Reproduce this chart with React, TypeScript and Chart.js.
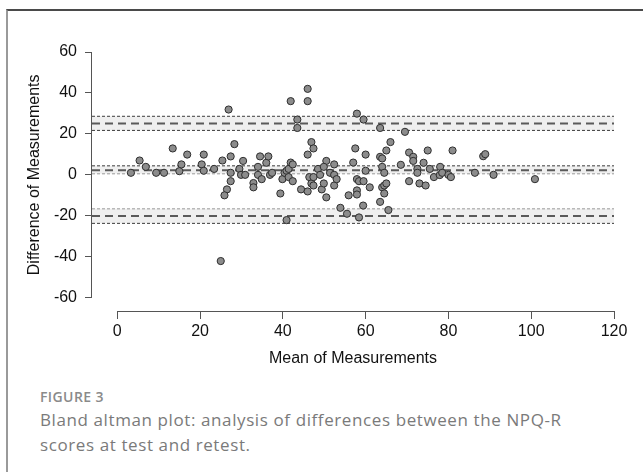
import React, { useEffect, useRef } from "react";
import { Chart, registerables } from "chart.js";

Chart.register(...registerables);

// ---- data ----
const meanOfMeasurements = [
  3.3, 5.4, 6.9, 9.4, 11.3, 13.4, 15.0, 15.5, 16.9, 20.4, 20.9, 20.9, 23.4, 25.4, 26.9, 27.4, 28.3, 27.4, 27.4, 26.5,
  25.9, 25.0, 29.5, 29.9, 30.4, 30.9, 32.9, 32.9, 34.0, 34.5, 34.0, 34.9, 36.0, 36.5, 36.9, 37.4, 39.4, 39.9,
  40.4, 40.9, 41.4, 41.9, 42.4, 41.4, 42.4, 40.9, 41.9, 43.5, 43.5, 44.4, 46.0, 46.0, 46.9, 47.4, 46.0, 46.0,
  46.4, 46.9, 47.4, 47.4, 48.5, 49.0, 49.4, 49.9, 50.5, 49.9, 50.5, 51.4, 52.4, 52.4, 52.4, 53.0, 53.9, 55.5, 55.9,
  57.0, 57.5, 57.9, 59.5, 57.9, 58.4, 57.9, 57.9, 58.4, 59.5, 59.4, 60.0, 60.0, 61.0, 63.5, 63.5, 63.5, 64.0,
  64.0, 64.5, 64.0, 64.5, 65.0, 64.5, 65.5, 65.0, 66.0,
  68.5, 69.5, 70.5, 71.5, 71.5, 72.5, 72.5, 70.5, 73.0, 74.5, 74.0, 75.0, 75.5, 76.5, 78.0, 77.9, 78.5, 80.0,
  80.6, 81.0, 88.4, 88.9, 86.4, 90.9, 100.9,
];
const differenceOfMeasurements = [
  1.0, 7.0, 3.9, 1.0, 1.0, 12.9, 1.8, 5.1, 9.9, 5.1, 9.9, 2.0, 2.9, 7.0, 31.9, 9.0, 15.0, 1.0, -3.1, -7.1,
  -10.0, -42.1, 2.9, 0.0, 6.8, 0.0, -4.0, -6.1, 3.9, 9.0, 0.0, -2.1, 5.9, 9.0, 0.0, 1.0, -9.1, -2.1,
  1.0, 2.0, 2.9, 6.0, 5.1, -1.1, -3.1, -22.1, 36.0, 27.0, 22.9, -7.1, 42.0, 36.0, 16.0, 12.9, 9.9, -8.1,
  -1.1, -4.2, -5.2, -1.1, 2.9, 0.0, -7.1, -4.2, 6.8, 3.9, -11.0, 1.0, 5.1, 0.0, -5.2, -2.1, -16.1, -19.0, -10.0,
  6.0, 12.9, 29.9, 27.0, -2.1, -3.1, -7.6, -9.6, -20.8, -3.1, -15.0, 9.9, 2.0, -6.1, 22.9, -13.2, 8.8, 8.0,
  3.9, 1.0, -6.1, -5.2, -4.2, -9.1, -17.2, 11.9, 16.0,
  4.9, 21.0, 10.9, 8.8, 6.8, 2.9, 1.0, -3.1, -4.2, -5.2, 5.9, 11.9, 2.9, -1.1, 3.9, -0.1, 1.0, 0.0,
  -1.1, 11.9, 9.1, 10.1, 1.0, 0.0, -2.1,
];

const xTickValues = [0, 20, 40, 60, 80, 100, 120];
const yTickValues = [-60, -40, -20, 0, 20, 40, 60];

const bandNames = ["Upper limit of agreement", "Mean difference", "Lower limit of agreement"];
const bandCenter = [25.1, 2.3, -20.1];
const bandUpperCI = [28.6, 4.4, -16.6];
const bandLowerCI = [21.7, 0.5, -23.7];

const X_MIN = -6.1;
const X_MAX = 120;
const Y_MIN = -66.5;
const Y_MAX = 60;

const CANVAS_H = 380;
const AXIS_COLOR = "#555555";
const TEXT_FONT = "'Liberation Sans', Arial, Helvetica, sans-serif";

const axisLinesPlugin = {
  id: "axisLines",
  afterDraw(chart: any) {
    const { ctx, chartArea, scales } = chart;
    const x = scales.x;
    const y = scales.y;
    ctx.save();
    ctx.strokeStyle = AXIS_COLOR;
    ctx.lineWidth = 1;
    ctx.beginPath();
    const ax = Math.round(chartArea.left) - 0.5;
    ctx.moveTo(ax, y.getPixelForValue(yTickValues[yTickValues.length - 1]));
    ctx.lineTo(ax, y.getPixelForValue(yTickValues[0]));
    const ay = Math.round(chartArea.bottom) + 0.5;
    ctx.moveTo(x.getPixelForValue(xTickValues[0]), ay);
    ctx.lineTo(x.getPixelForValue(xTickValues[xTickValues.length - 1]), ay);
    ctx.stroke();

    // y-axis title, centred on the labelled range
    const cy = (y.getPixelForValue(yTickValues[0]) + y.getPixelForValue(yTickValues[yTickValues.length - 1])) / 2;
    ctx.translate(chartArea.left - 57, cy);
    ctx.rotate(-Math.PI / 2);
    ctx.fillStyle = "#111111";
    ctx.font = `16px ${TEXT_FONT}`;
    ctx.textAlign = "center";
    ctx.textBaseline = "middle";
    ctx.fillText("Difference of Measurements", 0, 0);
    ctx.restore();
  },
};

export default function App() {
  const canvasRef = useRef<HTMLCanvasElement | null>(null);

  useEffect(() => {
    if (!canvasRef.current) return;
    const points = meanOfMeasurements.map((m, i) => ({ x: m, y: differenceOfMeasurements[i] }));

    const bandDatasets: any[] = [];
    bandNames.forEach((name, i) => {
      const light = "#9a9a9a";
      bandDatasets.push({
        type: "line",
        label: name + " upper CI",
        data: [
          { x: X_MIN, y: bandUpperCI[i] },
          { x: X_MAX, y: bandUpperCI[i] },
        ],
        borderColor: i === 2 ? light : "#3c3c3c",
        borderWidth: 1,
        borderDash: [3, 2],
        pointRadius: 0,
        fill: false,
        order: 3,
      });
      bandDatasets.push({
        type: "line",
        label: name + " lower CI",
        data: [
          { x: X_MIN, y: bandLowerCI[i] },
          { x: X_MAX, y: bandLowerCI[i] },
        ],
        borderColor: i === 1 ? light : "#3c3c3c",
        borderWidth: 1,
        borderDash: [3, 2],
        pointRadius: 0,
        fill: "-1",
        backgroundColor: "#efefef",
        order: 3,
      });
      bandDatasets.push({
        type: "line",
        label: name,
        data: [
          { x: X_MIN, y: bandCenter[i] },
          { x: X_MAX, y: bandCenter[i] },
        ],
        borderColor: "#5a5a5a",
        borderWidth: 2,
        borderDash: [8, 5],
        pointRadius: 0,
        fill: false,
        order: 2,
      });
    });

    const chart = new Chart(canvasRef.current, {
      type: "scatter",
      data: {
        datasets: [
          {
            type: "scatter",
            label: "Differences",
            data: points,
            pointRadius: 3.6,
            pointBackgroundColor: "#8c8c8c",
            pointBorderColor: "#2e2e2e",
            pointBorderWidth: 1,
            order: 0,
          } as any,
          ...bandDatasets,
        ],
      },
      options: {
        animation: false,
        responsive: false,
        maintainAspectRatio: false,
        layout: { padding: { top: 52, right: 29, bottom: 0, left: 0 } },
        plugins: {
          legend: { display: false },
          tooltip: { enabled: false },
          filler: { drawTime: "beforeDatasetsDraw" } as any,
        },
        scales: {
          x: {
            type: "linear",
            min: X_MIN,
            max: X_MAX,
            afterBuildTicks: (scale: any) => {
              scale.ticks = xTickValues.map((v) => ({ value: v }));
            },
            afterFit: (scale: any) => {
              scale.height = CANVAS_H - 311;
            },
            grid: {
              display: true,
              drawOnChartArea: false,
              drawTicks: true,
              tickLength: 8,
              color: AXIS_COLOR,
              lineWidth: 1,
            },
            border: { display: false },
            ticks: {
              color: "#111111",
              padding: 3,
              maxRotation: 0,
              font: { family: TEXT_FONT, size: 16 },
              callback: (v: any) => String(v),
            },
            title: {
              display: true,
              text: "Mean of Measurements",
              color: "#111111",
              font: { family: TEXT_FONT, size: 16 },
              padding: { top: 0, bottom: 12 },
            },
          },
          y: {
            type: "linear",
            min: Y_MIN,
            max: Y_MAX,
            afterBuildTicks: (scale: any) => {
              scale.ticks = yTickValues.map((v) => ({ value: v }));
            },
            afterFit: (scale: any) => {
              scale.width = 92;
            },
            grid: {
              display: true,
              drawOnChartArea: false,
              drawTicks: true,
              tickLength: 7,
              color: AXIS_COLOR,
              lineWidth: 1,
            },
            border: { display: false },
            ticks: {
              color: "#111111",
              padding: 8,
              font: { family: TEXT_FONT, size: 16 },
              callback: (v: any) => String(v),
            },
          },
        },
      },
      plugins: [axisLinesPlugin],
    });
    return () => chart.destroy();
  }, []);

  return (
    <div style={{ position: "fixed", left: 0, top: 0, width: 643, height: 472, overflow: "hidden", background: "#fff" }}>
      <div
        style={{
          position: "absolute",
          left: 6,
          top: 9,
          width: 700,
          height: 520,
          borderTop: "2px solid #4a4a4a",
          borderLeft: "2px solid #9a9a9a",
          boxSizing: "border-box",
        }}
      />
      <canvas ref={canvasRef} width={643} height={CANVAS_H} style={{ position: "absolute", left: 0, top: 0, width: 643, height: CANVAS_H }} />
      <div
        style={{
          position: "absolute",
          left: 40,
          top: 389,
          fontFamily: "'Open Sans', Lato, sans-serif",
          fontSize: 14,
          lineHeight: "16px",
          fontWeight: 600,
          color: "#8a8a8a",
          letterSpacing: "0.4px",
        }}
      >
        FIGURE 3
      </div>
      <div
        style={{
          position: "absolute",
          left: 40,
          top: 407,
          fontFamily: "'Open Sans', Lato, sans-serif",
          fontSize: 17,
          lineHeight: "25px",
          color: "#7a7a7a",
          whiteSpace: "nowrap",
          letterSpacing: "0.6px",
        }}
      >
        Bland altman plot: analysis of differences between the NPQ-R
        <br />
        scores at test and retest.
      </div>
    </div>
  );
}
